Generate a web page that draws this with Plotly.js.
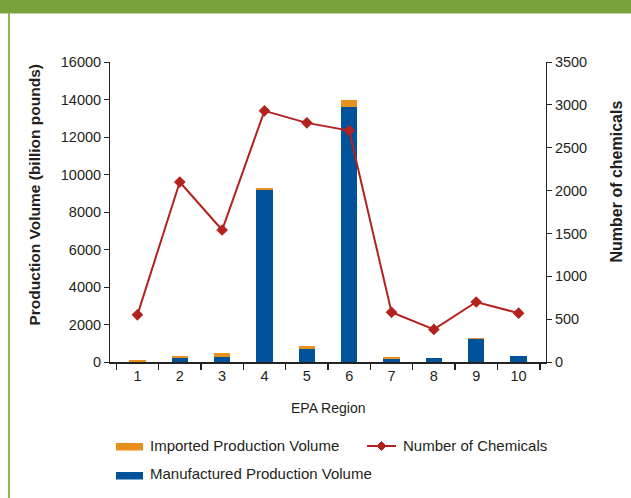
<!DOCTYPE html>
<html>
<head>
<meta charset="utf-8">
<script src="https://cdn.plot.ly/plotly-3.0.1.min.js"></script>
<style>
  html, body { margin: 0; padding: 0; background: #fff; }
  #chart { width: 631px; height: 498px; }
</style>
</head>
<body>
<div id="chart"></div>
<script>
// ---- data ----
const regions = ['1', '2', '3', '4', '5', '6', '7', '8', '9', '10'];
const manufactured = [20, 200, 280, 9150, 700, 13600, 170, 230, 1250, 320];
const imported = [100, 120, 220, 120, 170, 370, 110, 0, 20, 10];
const numChemicals = [550, 2100, 1540, 2930, 2790, 2700, 580, 380, 700, 570];
const leftTicks = [0, 2000, 4000, 6000, 8000, 10000, 12000, 14000, 16000];
const rightTicks = [0, 500, 1000, 1500, 2000, 2500, 3000, 3500];

// ---- style ----
const FONT = 'Liberation Sans, Arial, sans-serif';
const TXT = '#231f20';
const ORANGE = '#e8901e';
const BLUE = '#00529b';
const RED = '#b3221e';
const GREEN = '#79a23f';

const W = 631, H = 498;
const M = { l: 110, r: 85, t: 62, b: 136 };
const PW = W - M.l - M.r, PH = H - M.t - M.b;
const px = x => (x - M.l) / PW;
const py = y => (H - M.b - y) / PH;

const traces = [
  {
    type: 'bar', name: 'Manufactured Production Volume',
    x: regions, y: manufactured, marker: { color: BLUE },
    showlegend: false, hoverinfo: 'x+y'
  },
  {
    type: 'bar', name: 'Imported Production Volume',
    x: regions, y: imported, marker: { color: ORANGE },
    showlegend: false, hoverinfo: 'x+y'
  },
  {
    type: 'scatter', mode: 'lines+markers', name: 'Number of Chemicals',
    x: regions, y: numChemicals, yaxis: 'y2',
    line: { color: RED, width: 2 },
    marker: { symbol: 'diamond', size: 9, color: RED },
    showlegend: false
  }
];

const shapes = [
  // green frame: top bar and left rule
  { type: 'rect', xref: 'paper', yref: 'paper', x0: px(-2), x1: px(W + 2), y0: py(13.5), y1: py(-2),
    fillcolor: GREEN, line: { width: 0 }, layer: 'above' },
  { type: 'rect', xref: 'paper', yref: 'paper', x0: px(8), x1: px(10), y0: py(H + 2), y1: py(13),
    fillcolor: '#8db85a', line: { width: 0 }, layer: 'above' },
  // legend swatches
  { type: 'rect', xref: 'paper', yref: 'paper', x0: px(116), x1: px(143), y0: py(450.5), y1: py(443),
    fillcolor: ORANGE, line: { width: 0 } },
  { type: 'rect', xref: 'paper', yref: 'paper', x0: px(116), x1: px(143), y0: py(479.5), y1: py(472),
    fillcolor: BLUE, line: { width: 0 } },
  { type: 'line', xref: 'paper', yref: 'paper', x0: px(367), x1: px(396), y0: py(446), y1: py(446),
    line: { color: RED, width: 2 } },
  { type: 'path', xref: 'paper', yref: 'paper',
    path: `M ${px(377)} ${py(446)} L ${px(381.5)} ${py(441.5)} L ${px(386)} ${py(446)} L ${px(381.5)} ${py(450.5)} Z`,
    fillcolor: RED, line: { color: RED, width: 1 } }
];

const annotations = [
  { text: 'Imported Production Volume', xref: 'paper', yref: 'paper', x: px(148), y: py(445),
    xanchor: 'left', yanchor: 'middle', showarrow: false, font: { family: FONT, size: 15, color: TXT } },
  { text: 'Manufactured Production Volume', xref: 'paper', yref: 'paper', x: px(148), y: py(473),
    xanchor: 'left', yanchor: 'middle', showarrow: false, font: { family: FONT, size: 15, color: TXT } },
  { text: 'Number of Chemicals', xref: 'paper', yref: 'paper', x: px(401), y: py(445),
    xanchor: 'left', yanchor: 'middle', showarrow: false, font: { family: FONT, size: 15, color: TXT } },
  { text: 'EPA Region', xref: 'paper', yref: 'paper', x: px(328), y: py(408),
    xanchor: 'center', yanchor: 'middle', showarrow: false, font: { family: FONT, size: 14, color: TXT } },
  { text: '<b>Production Volume (billion pounds)</b>', xref: 'paper', yref: 'paper', x: px(33.5), y: py(195),
    xanchor: 'center', yanchor: 'middle', textangle: -90, showarrow: false,
    font: { family: FONT, size: 15.5, color: TXT } },
  { text: '<b>Number of chemicals</b>', xref: 'paper', yref: 'paper', x: px(615.5), y: py(182),
    xanchor: 'center', yanchor: 'middle', textangle: -90, showarrow: false,
    font: { family: FONT, size: 16, color: TXT } }
];

const layout = {
  width: W, height: H,
  margin: M,
  paper_bgcolor: '#ffffff', plot_bgcolor: '#ffffff',
  barmode: 'stack', bargap: 0.61,
  showlegend: false,
  font: { family: FONT, size: 14.5, color: TXT },
  xaxis: {
    type: 'category', categoryorder: 'array', categoryarray: regions,
    showline: true, linecolor: '#222', linewidth: 1.5,
    ticks: 'outside', tickson: 'boundaries', ticklen: 6, tickcolor: '#222', tickwidth: 1.5,
    showgrid: false, zeroline: false,
    tickfont: { family: FONT, size: 14.5, color: TXT }
  },
  yaxis: {
    range: [0, 16000], tickvals: leftTicks, ticktext: leftTicks.map(String),
    showline: true, linecolor: '#222', linewidth: 1,
    ticks: 'outside', ticklen: 5, tickcolor: '#222',
    showgrid: false, zeroline: false,
    tickfont: { family: FONT, size: 14.5, color: TXT }
  },
  yaxis2: {
    overlaying: 'y', side: 'right', anchor: 'x',
    range: [0, 3500], tickvals: rightTicks, ticktext: rightTicks.map(String),
    showline: true, linecolor: '#222', linewidth: 1,
    ticks: 'outside', ticklen: 5, tickcolor: '#222',
    showgrid: false, zeroline: false,
    tickfont: { family: FONT, size: 14.5, color: TXT }
  },
  shapes: shapes,
  annotations: annotations
};

Plotly.newPlot('chart', traces, layout, { displayModeBar: false, staticPlot: true });
</script>
</body>
</html>
